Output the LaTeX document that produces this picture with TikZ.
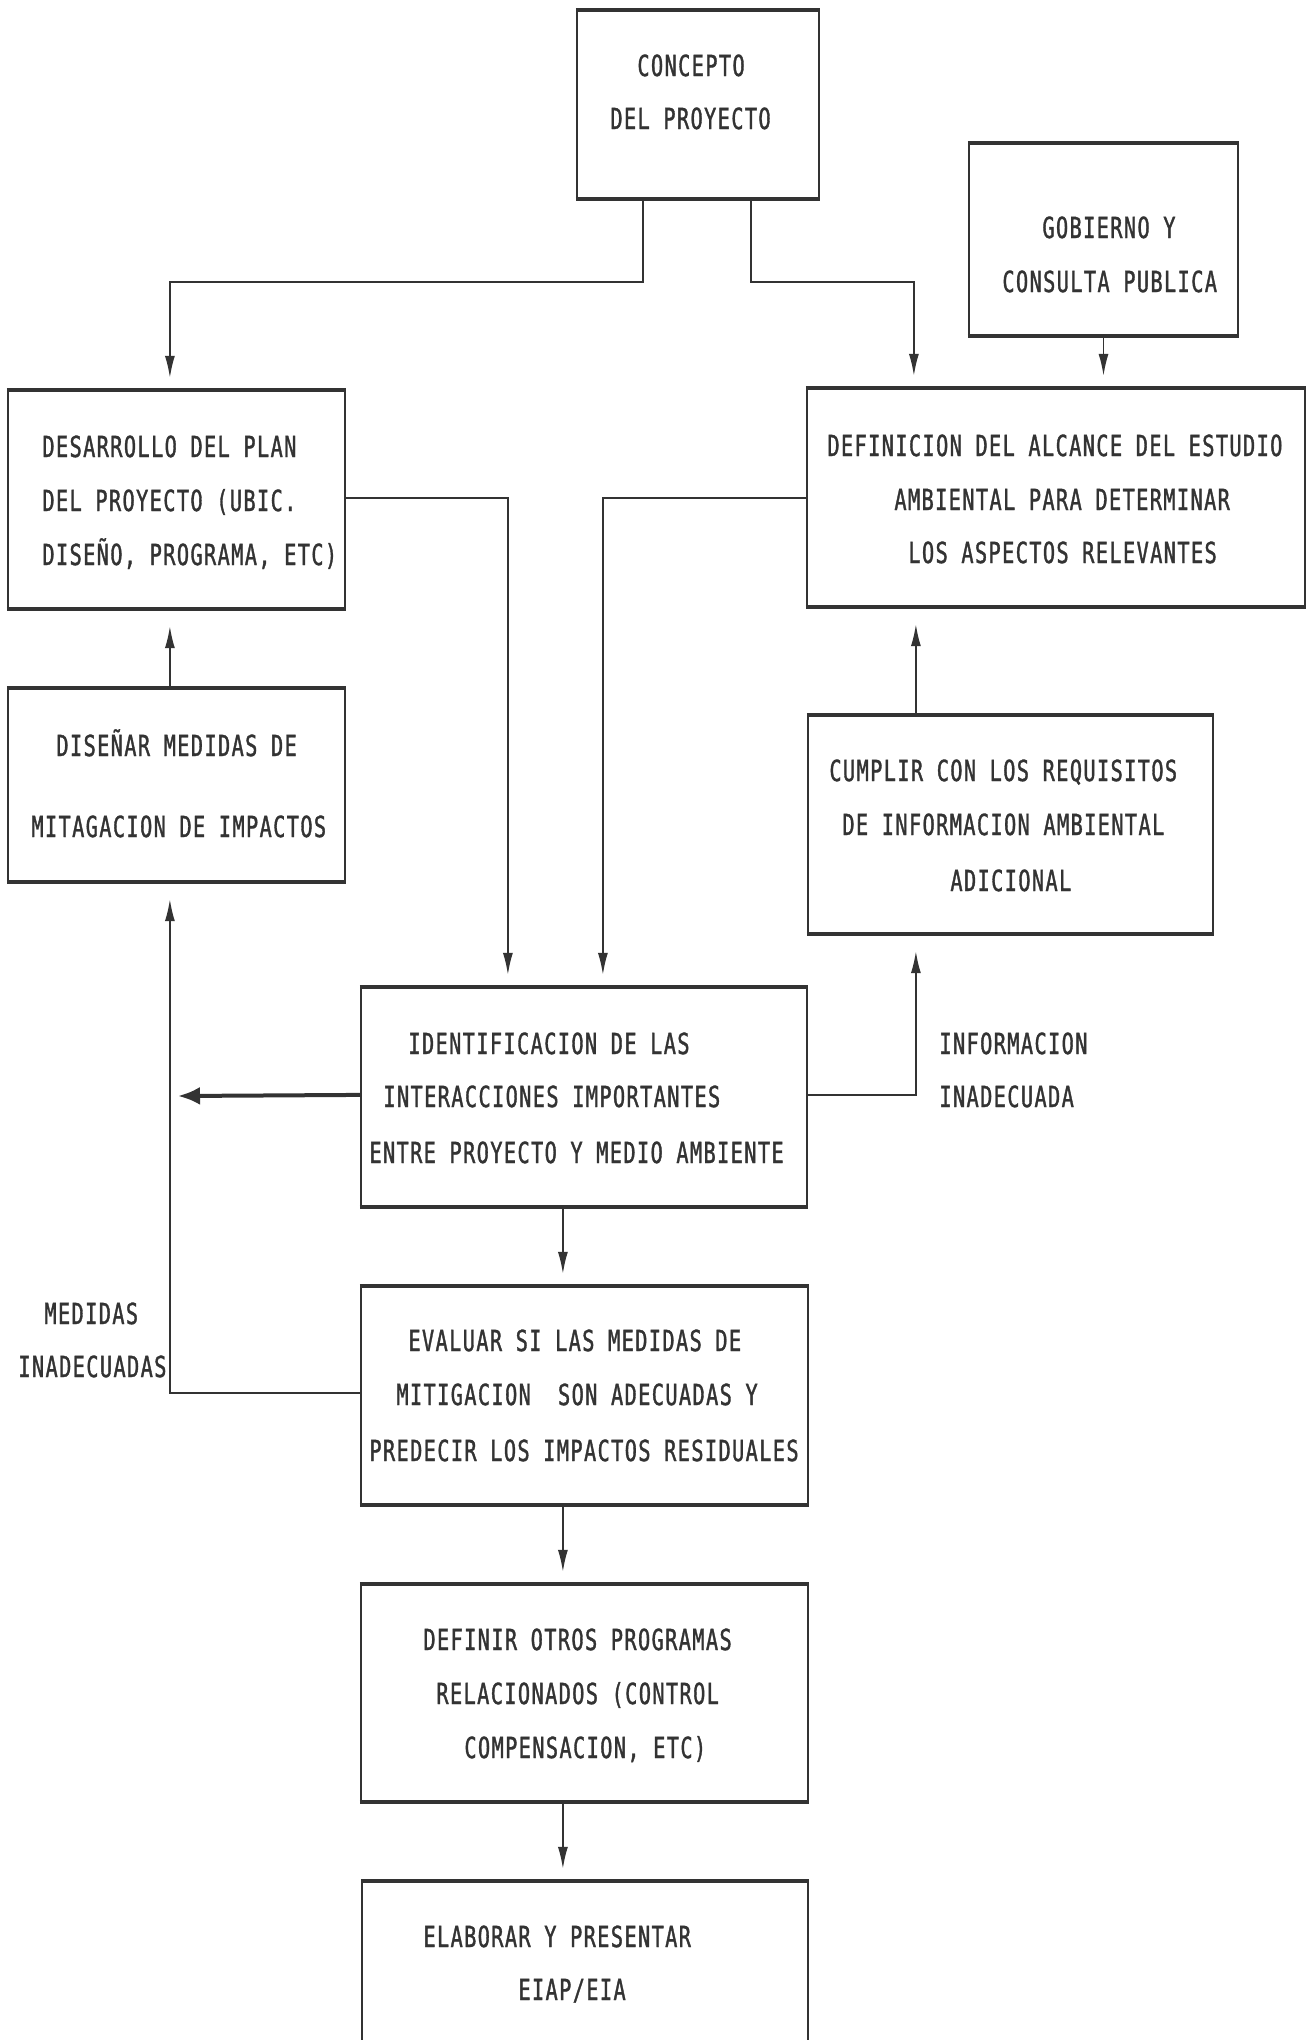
\documentclass[tikz,border=0pt]{standalone}
\usepackage{fontspec}
\usetikzlibrary{arrows.meta,calc,fit}
\newfontfamily\plotfont{DejaVu Sans Mono}[FakeStretch=0.7,LetterSpace=4.7,FakeBold=1.2]
\definecolor{ink}{HTML}{333333}

\begin{document}
\begin{tikzpicture}[x=0.5pt,y=-0.5pt,
  box/.style={draw=ink,line width=1.1pt,inner sep=0pt},
  txt/.style={anchor=base west,inner sep=0pt,text=ink,font=\plotfont\fontsize{14.5pt}{18pt}\selectfont},
  arr/.style={draw=ink,line width=0.9pt,-{Latex[length=11pt,width=5pt]},shorten >=6pt},
  uparr/.style={arr,shorten >=8.5pt},
  thickarr/.style={draw=ink,line width=2pt,-{Latex[length=11pt,width=9pt]}},
  edge/.style={draw=ink,line width=1.9pt}]

\useasboundingbox (0,0) rectangle (1307,2040);
\fill[white] (0,0) rectangle (1307,2040);

% boxes
\node[box,fit={(577,11) (819,198)}] (concept) {};
\node[box,fit={(969,144) (1238,335)}] (gobierno) {};
\node[box,fit={(8,391) (345,608)}] (desarrollo) {};
\node[box,fit={(807,389) (1305,606)}] (definicion) {};
\node[box,fit={(8,689) (345,881)}] (disenar) {};
\node[box,fit={(808,716) (1213,933)}] (cumplir) {};
\node[box,fit={(361,988) (807,1206)}] (ident) {};
\node[box,fit={(361,1287) (808,1504)}] (evaluar) {};
\node[box,fit={(361,1585) (808,1801)}] (definir) {};
\node[box,fit={(362,1882) (808,2080)}] (elaborar) {};

% heavier horizontal edges of the boxes
\foreach \b in {concept,gobierno,desarrollo,definicion,disenar,cumplir,ident,evaluar,definir}{
  \draw[edge] (\b.north west) -- (\b.north east);
  \draw[edge] (\b.south west) -- (\b.south east);
}
\draw[edge] (elaborar.north west) -- (elaborar.north east);

% box texts
\node[txt] (c1) at (637,76) {CONCEPTO};
\node[txt] (c2) at (610,129) {DEL PROYECTO};

\node[txt] (g1) at (1042,238) {GOBIERNO Y};
\node[txt] (g2) at (1002,292) {CONSULTA PUBLICA};

\node[txt] (d1) at (42,457) {DESARROLLO DEL PLAN};
\node[txt] (d2) at (42,511) {DEL PROYECTO (UBIC.};
\node[txt] (d3) at (42,565) {DISEÑO, PROGRAMA, ETC)};

\node[txt] (a1) at (827,456) {DEFINICION DEL ALCANCE DEL ESTUDIO};
\node[txt] (a2) at (894,510) {AMBIENTAL PARA DETERMINAR};
\node[txt] (a3) at (908,563) {LOS ASPECTOS RELEVANTES};

\node[txt] (m1) at (56,756) {DISEÑAR MEDIDAS DE};
\node[txt] (m2) at (31,837) {MITAGACION DE IMPACTOS};

\node[txt] (r1) at (829,781) {CUMPLIR CON LOS REQUISITOS};
\node[txt] (r2) at (842,835) {DE INFORMACION AMBIENTAL};
\node[txt] (r3) at (950,891) {ADICIONAL};

\node[txt] (i1) at (408,1054) {IDENTIFICACION DE LAS};
\node[txt] (i2) at (383,1107) {INTERACCIONES IMPORTANTES};
\node[txt] (i3) at (369,1163) {ENTRE PROYECTO Y MEDIO AMBIENTE};

\node[txt] (e1) at (408,1351) {EVALUAR SI LAS MEDIDAS DE};
\node[txt] (e2) at (396,1405) {MITIGACION\ \ SON ADECUADAS Y};
\node[txt] (e3) at (369,1461) {PREDECIR LOS IMPACTOS RESIDUALES};

\node[txt] (p1) at (423,1650) {DEFINIR OTROS PROGRAMAS};
\node[txt] (p2) at (436,1704) {RELACIONADOS (CONTROL};
\node[txt] (p3) at (464,1758) {COMPENSACION, ETC)};

\node[txt] (l1) at (423,1947) {ELABORAR Y PRESENTAR};
\node[txt] (l2) at (518,2000) {EIAP/EIA};

% connector labels
\node[txt] (n1) at (939,1054) {INFORMACION};
\node[txt] (n2) at (939,1107) {INADECUADA};
\node[txt] (q1) at (44,1324) {MEDIDAS};
\node[txt] (q2) at (18,1377) {INADECUADAS};

% connectors
\draw[arr] ($(concept.south west)+(67,0)$) -- ++(0,83) -| ($(desarrollo.north west)+(163,0)$);
\draw[arr] ($(concept.south west)+(175,0)$) -- ++(0,83) -| ($(definicion.north west)+(108,0)$);
\draw[arr] (gobierno.south) -- (gobierno.south |- definicion.north);
\draw[arr] ($(desarrollo.north east)+(0,108)$) -| ($(ident.north west)+(148,0)$);
\draw[arr] ($(definicion.north west)+(0,110)$) -| ($(ident.north west)+(243,0)$);
\draw[uparr] ($(disenar.north west)+(163,0)$) -- ($(desarrollo.south west)+(163,0)$);
\draw[uparr] ($(cumplir.north west)+(109,0)$) -- ($(definicion.south west)+(110,0)$);
\draw[uparr] ($(ident.north east)+(0,108)$) -| ($(cumplir.south west)+(109,0)$);
\coordinate (lefttip) at (178,1096);
\draw[thickarr] ($(ident.north west)+(0,108)$) -- (lefttip);
\draw[uparr] ($(evaluar.north west)+(0,107)$) -| ($(disenar.south west)+(163,0)$);
\draw[arr] ($(ident.south west)+(203,0)$) -- ($(evaluar.north west)+(203,0)$);
\draw[arr] ($(evaluar.south west)+(203,0)$) -- ($(definir.north west)+(203,0)$);
\draw[arr] ($(definir.south west)+(203,0)$) -- ($(elaborar.north west)+(202,0)$);

\end{tikzpicture}
\end{document}
